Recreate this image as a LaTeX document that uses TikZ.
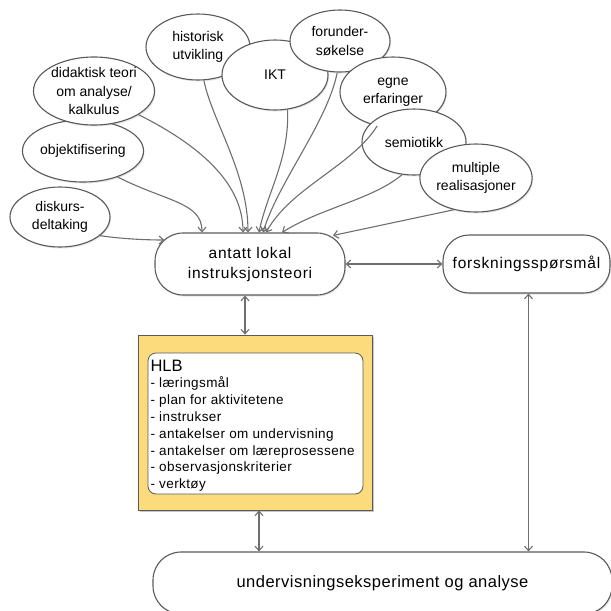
\documentclass[tikz,border=0pt]{standalone}
\usepackage{fontspec}
\setmainfont{Liberation Sans}
\newfontfamily\tightsp{Liberation Sans}[LetterSpace=3]
\newfontfamily\widesp{Liberation Sans}[LetterSpace=5]
\usepackage{tikz}
\usetikzlibrary{arrows.meta, shadows, shapes.geometric}
\definecolor{linegray}{HTML}{6E6E6E}
\definecolor{edgegray}{HTML}{5A5A5A}
\definecolor{hlbyellow}{HTML}{FBDB7C}

\begin{document}
\begin{tikzpicture}[x=1pt, y=-1pt, line width=1.1pt,
    bubble/.style={ellipse, draw=edgegray, fill=white, inner sep=0pt, align=center,
        font=\fontsize{14}{18.5}\selectfont,
        drop shadow={shadow xshift=1pt, shadow yshift=-1.5pt, opacity=0.2}},
    pill/.style={draw=edgegray, fill=white, inner sep=0pt, align=center,
        font=\widesp\fontsize{15.5}{20}\selectfont,
        drop shadow={shadow xshift=1pt, shadow yshift=-1.5pt, opacity=0.2}},
    arr/.style={draw=linegray, -{Straight Barb[length=4.5pt, width=8pt]}},
    dbl/.style={draw=linegray, {Straight Barb[length=4.5pt, width=8pt]}-{Straight Barb[length=4.5pt, width=8pt]}}]
    \useasboundingbox (0,0) rectangle (611,611);
    \clip (0,0) rectangle (611,611);

    \node[bubble, minimum width=104pt, minimum height=66pt] (hist) at (198,47) {historisk\\utvikling};
    \node[bubble, minimum width=106pt, minimum height=70pt] (ikt) at (275,75) {IKT};
    \node[bubble, minimum width=100pt, minimum height=62pt] (forund) at (340,41) {forunder-\\søkelse};
    \node[bubble, minimum width=106pt, minimum height=70pt] (egne) at (393,92) {egne\\erfaringer};
    \node[bubble, minimum width=104pt, minimum height=66pt] (semio) at (414,142) {semiotikk};
    \node[bubble, minimum width=106pt, minimum height=68pt] (multi) at (476,178) {multiple\\realisasjoner};
    \node[bubble, minimum width=100pt, minimum height=60pt] (disk) at (60,217) {diskurs-\\deltaking};
    \node[bubble, minimum width=102pt, minimum height=62pt] (objekt) at (83,151) {objektifisering};
    \node[bubble, minimum width=112pt, minimum height=68pt] (didak) at (94,91) {didaktisk teori\\om analyse/\\kalkulus};

    \node[pill, minimum width=190pt, minimum height=62pt, rounded corners=28pt] (lit) at (250,264) {antatt lokal\\instruksjonsteori};
    \node[pill, minimum width=167pt, minimum height=58pt, rounded corners=26pt] (forsk) at (526.5,264) {forskningsspørsmål};
    \node[pill, minimum width=459pt, minimum height=62pt, rounded corners=28pt,
        font=\tightsp\fontsize{16.5}{20}\selectfont] (undev) at (382.5,583) {undervisningseksperiment og analyse};

    \node[draw=edgegray, line width=0.8pt, fill=hlbyellow, minimum width=234pt, minimum height=175pt,
        drop shadow={shadow xshift=1.5pt, shadow yshift=-2pt, opacity=0.45}] (hlbout) at (255,422.5) {};
    \node[draw=edgegray, line width=0.8pt, fill=white, rounded corners=8pt,
        minimum width=215pt, minimum height=141pt] (hlbin) at (255.5,423.5) {};
    \node[anchor=base west, inner sep=0pt, font=\fontsize{16.5}{18}\selectfont] (hlbhead) at (150,371) {HLB};
    \foreach \t [count=\i] in {læringsmål, plan for aktivitetene, instrukser, antakelser om undervisning,
        antakelser om læreprosessene, observasjonskriterier, verktøy}
        \node[anchor=base west, inner sep=0pt, font=\tightsp\fontsize{13.5}{16}\selectfont] (item\i) at (150,371+\i*16.8) {- \t};

    \draw[arr] (disk.-25) .. controls +(20,3) and +(-20,0) .. ([xshift=10pt, yshift=24pt]lit.west);
    \draw[arr] (objekt.-37) .. controls +(50,25) and +(0,-30) .. ([xshift=-48pt]lit.north);
    \draw[arr] (didak.-28) .. controls +(60,30) and +(0,-50) .. ([xshift=-7pt]lit.north);
    \draw[arr] (hist.-80) .. controls +(8,40) and +(0,-60) .. ([xshift=-2pt]lit.north);
    \draw[arr] (ikt.-70) .. controls +(2,50) and +(8,-40) .. ([xshift=9pt]lit.north);
    \draw[arr] (forund.-95) .. controls +(-10,50) and +(15,-50) .. ([xshift=13pt]lit.north);
    \draw[arr] (egne.-115) .. controls +(-25,40) and +(25,-45) .. ([xshift=16pt]lit.north);
    \draw[arr] (semio.-110) .. controls +(-30,25) and +(40,-25) .. ([xshift=32pt]lit.north);
    \draw[arr] (multi.-125) -- ([xshift=83pt, yshift=-3pt]lit.north);

    \draw[dbl] (lit.east) -- (forsk.west);
    \draw[dbl] ([xshift=-5pt]lit.south) -- ([xshift=-5pt]lit.south |- hlbout.north);
    \draw[dbl] ([xshift=4pt]hlbout.south) -- ([xshift=4pt]hlbout.south |- undev.north);
    \draw[dbl] ([xshift=2pt]forsk.south) -- ([xshift=2pt]forsk.south |- undev.north);
\end{tikzpicture}
\end{document}
